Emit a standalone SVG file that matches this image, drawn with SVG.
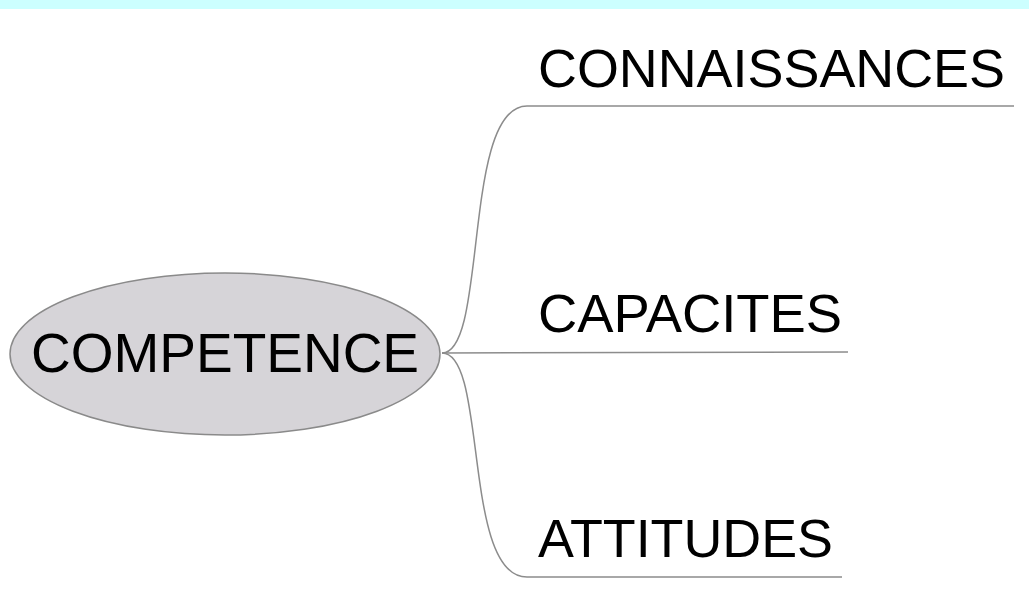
<svg xmlns="http://www.w3.org/2000/svg" width="1029" height="614" viewBox="0 0 1029 614">
<style>
.lbl{font-family:"Liberation Sans",Arial,sans-serif;font-size:54px;fill:#000}
.conn{fill:none;stroke:#8c8c8c;stroke-width:1.5}
</style>
<rect x="0" y="0" width="1029" height="614" fill="#ffffff"/>
<rect x="0" y="0" width="1029" height="9" fill="#ccffff"/>
<g id="connectors">
<path class="conn" d="M442,353 C488,353 462,106 527,106 L1014,106"/>
<path class="conn" d="M442,353 L848,352"/>
<path class="conn" d="M442,353 C488,353 462,577 527,577 L842,577"/>
</g>
<g id="competence">
<ellipse cx="225" cy="354" rx="215" ry="81" fill="#d6d4d8" stroke="#8a8a8a" stroke-width="1.5"/>
<text class="lbl" x="225" y="372" text-anchor="middle" style="font-size:55px">COMPETENCE</text>
</g>
<g id="connaissances">
<text class="lbl" x="538" y="87" textLength="467" lengthAdjust="spacingAndGlyphs">CONNAISSANCES</text>
</g>
<g id="capacites">
<text class="lbl" x="538" y="332" textLength="304" lengthAdjust="spacingAndGlyphs">CAPACITES</text>
</g>
<g id="attitudes">
<text class="lbl" x="538" y="557" textLength="295" lengthAdjust="spacingAndGlyphs">ATTITUDES</text>
</g>
</svg>
